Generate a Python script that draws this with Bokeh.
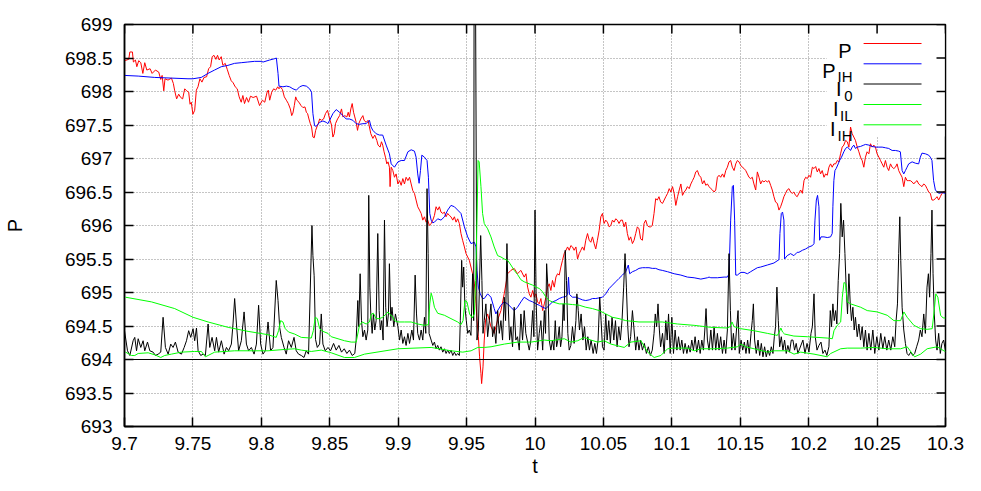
from bokeh.plotting import figure
from bokeh.models import Range1d, FixedTicker, BoxAnnotation
from bokeh.core.properties import value
from bokeh.embed import file_html
from bokeh.resources import INLINE

# ---------------- axis ticks ----------------
x_ticks = [9.7, 9.75, 9.8, 9.85, 9.9, 9.95, 10.0, 10.05, 10.1, 10.15, 10.2, 10.25, 10.3]
x_tick_labels = ["9.7", "9.75", "9.8", "9.85", "9.9", "9.95", "10", "10.05", "10.1", "10.15", "10.2", "10.25", "10.3"]
y_ticks = [693.0, 693.5, 694.0, 694.5, 695.0, 695.5, 696.0, 696.5, 697.0, 697.5, 698.0, 698.5, 699.0]
y_tick_labels = ["693", "693.5", "694", "694.5", "695", "695.5", "696", "696.5", "697", "697.5", "698", "698.5", "699"]

# ---------------- series (t, value) ----------------
P = [
(9.7000,698.46),(9.7031,698.48),(9.7039,698.59),(9.7058,698.59),(9.7065,698.44),(9.7080,698.47),(9.7090,698.37),(9.7104,698.46),
(9.7119,698.43),(9.7134,698.27),(9.7148,698.43),(9.7163,698.32),(9.7187,698.34),(9.7202,698.27),(9.7226,698.32),(9.7250,698.29),
(9.7265,698.18),(9.7275,698.24),(9.7287,698.01),(9.7296,698.19),(9.7318,698.17),(9.7343,698.20),(9.7357,698.12),(9.7367,698.01),
(9.7381,697.89),(9.7396,697.96),(9.7411,697.91),(9.7425,697.89),(9.7440,698.04),(9.7454,698.01),(9.7469,697.99),(9.7479,697.81),
(9.7488,697.84),(9.7500,697.66),(9.7513,697.72),(9.7525,698.02),(9.7537,698.07),(9.7551,698.19),(9.7566,698.14),(9.7581,698.21),
(9.7600,698.22),(9.7615,698.34),(9.7629,698.37),(9.7641,698.52),(9.7654,698.54),(9.7668,698.48),(9.7680,698.54),(9.7692,698.47),
(9.7707,698.52),(9.7719,698.39),(9.7736,698.42),(9.7751,698.33),(9.7765,698.24),(9.7780,698.16),(9.7794,698.13),(9.7809,698.07),
(9.7824,698.04),(9.7838,697.92),(9.7853,697.84),(9.7865,697.94),(9.7877,697.82),(9.7892,697.91),(9.7906,697.84),(9.7921,697.93),
(9.7940,697.91),(9.7965,697.93),(9.7987,697.79),
(9.8008,697.87),(9.8025,697.84),(9.8042,697.99),(9.8051,698.02),(9.8061,697.87),(9.8076,697.99),(9.8090,698.04),(9.8105,698.02),
(9.8120,698.07),(9.8129,698.04),(9.8139,698.07),(9.8154,698.03),(9.8168,697.92),(9.8183,697.87),(9.8197,697.82),(9.8212,697.74),
(9.8222,697.64),(9.8231,697.68),(9.8241,697.79),(9.8251,697.92),(9.8260,697.87),(9.8275,697.84),(9.8290,697.79),(9.8304,697.76),
(9.8319,697.77),(9.8329,697.69),(9.8338,697.67),(9.8348,697.59),(9.8358,697.52),(9.8367,697.47),(9.8377,697.32),(9.8387,697.31),
(9.8397,697.42),(9.8406,697.47),(9.8416,697.52),(9.8426,697.59),(9.8440,697.57),(9.8455,697.59),(9.8469,697.67),(9.8484,697.72),
(9.8499,697.59),(9.8513,697.50),(9.8523,697.32),(9.8533,697.37),(9.8542,697.52),(9.8557,697.59),(9.8572,697.64),(9.8586,697.74),
(9.8596,697.62),(9.8610,697.64),(9.8625,697.62),(9.8635,697.69),(9.8644,697.62),(9.8654,697.74),(9.8664,697.82),(9.8674,697.69),
(9.8683,697.62),(9.8693,697.54),(9.8703,697.42),(9.8712,697.52),(9.8727,697.59),(9.8742,697.64),(9.8751,697.57),(9.8766,697.54),
(9.8780,697.57),(9.8790,697.47),(9.8800,697.37),(9.8815,697.30),(9.8829,697.35),(9.8844,697.27),(9.8853,697.20),(9.8868,697.17),
(9.8878,697.25),(9.8887,697.20),(9.8897,697.10),(9.8907,697.02),(9.8917,696.92),(9.8926,696.95),(9.8936,696.87),(9.8941,696.58),
(9.8949,696.87),(9.8961,696.82),(9.8973,696.72),(9.8985,696.77),(9.8998,696.62),(9.9010,696.67),(9.9022,696.60),(9.9034,696.70),
(9.9046,696.62),(9.9058,696.72),(9.9071,696.67),(9.9083,696.72),(9.9095,696.62),(9.9107,696.52),(9.9119,696.48),(9.9131,696.38),
(9.9143,696.28),(9.9156,696.23),(9.9168,696.18),(9.9180,696.08),(9.9192,696.13),(9.9204,696.05),(9.9216,696.08),(9.9228,696.00),
(9.9241,696.03),(9.9253,696.08),(9.9265,696.15),(9.9277,696.28),(9.9289,696.23),(9.9301,696.28),(9.9313,696.20),(9.9326,696.18),
(9.9338,696.20),(9.9350,696.13),(9.9362,696.18),(9.9374,696.15),(9.9386,696.13),(9.9399,696.08),(9.9411,696.13),(9.9423,696.05),
(9.9435,696.10),(9.9447,696.03),(9.9459,695.88),(9.9471,695.78),(9.9484,695.68),(9.9496,695.58),(9.9508,695.53),(9.9520,695.48),
(9.9532,695.38),(9.9544,695.28),(9.9557,695.13),(9.9569,694.83),(9.9576,694.59),(9.9586,694.34),(9.9595,694.04),(9.9605,693.79),
(9.9610,693.64),(9.9620,693.89),(9.9629,694.29),(9.9639,694.59),(9.9654,694.68),(9.9678,694.49),(9.9702,694.39),(9.9727,694.59),
(9.9751,694.73),(9.9775,694.98),(9.9800,695.28),(9.9824,695.33),(9.9848,695.36),(9.9872,695.28),(9.9897,695.33),(9.9921,695.23),
(9.9934,695.28),(9.9946,695.08),(9.9958,694.98),(9.9970,694.93),(9.9983,695.03),(9.9995,694.93),(10.0007,694.98),(10.0019,694.86),
(10.0031,694.83),(10.0043,694.91),(10.0056,694.73),(10.0068,694.83),(10.0080,694.93),(10.0092,695.08),(10.0104,695.13),(10.0116,695.03),
(10.0128,695.18),(10.0141,695.08),(10.0153,695.23),(10.0165,695.28),(10.0177,695.26),(10.0189,695.38),(10.0201,695.48),(10.0213,695.58),
(10.0226,695.63),(10.0238,695.68),(10.0250,695.63),(10.0262,695.70),(10.0274,695.68),(10.0286,695.63),(10.0299,695.68),(10.0311,695.50),
(10.0323,695.58),(10.0335,695.63),(10.0347,695.68),(10.0359,695.63),(10.0371,695.78),(10.0384,695.88),(10.0396,695.78),(10.0408,695.75),
(10.0420,695.83),(10.0432,695.73),(10.0444,695.65),(10.0456,695.78),(10.0469,695.93),(10.0481,696.13),(10.0493,696.18),(10.0505,696.03),
(10.0517,696.08),(10.0529,696.05),(10.0542,695.98),(10.0554,696.00),(10.0566,696.08),(10.0578,696.05),(10.0590,696.10),(10.0602,696.08),
(10.0614,696.03),(10.0627,696.08),(10.0639,696.08),(10.0651,695.98),(10.0663,696.05),(10.0675,695.88),(10.0687,695.78),(10.0699,695.83),
(10.0712,695.73),(10.0724,695.78),(10.0736,695.88),(10.0748,695.98),(10.0760,695.95),(10.0772,695.80),(10.0785,695.78),(10.0797,696.03),
(10.0809,696.08),(10.0821,696.00),(10.0833,695.98),(10.0845,695.98),(10.0857,696.00),(10.0870,696.18),(10.0882,696.40),(10.0894,696.38),
(10.0906,696.43),(10.0918,696.35),
(10.0932,696.33),(10.0944,696.38),(10.0956,696.43),(10.0969,696.48),(10.0981,696.55),(10.0993,696.50),(10.1005,696.58),(10.1017,696.48),
(10.1029,696.30),(10.1042,696.43),(10.1054,696.53),(10.1066,696.62),(10.1078,696.45),(10.1090,696.50),(10.1102,696.53),(10.1114,696.58),
(10.1127,696.55),(10.1139,696.62),(10.1151,696.67),(10.1163,696.72),(10.1175,696.80),(10.1187,696.82),(10.1199,696.75),(10.1212,696.72),
(10.1224,696.62),(10.1236,696.67),(10.1248,696.60),(10.1260,696.62),(10.1272,696.58),(10.1285,696.55),(10.1297,696.53),(10.1309,696.50),
(10.1321,696.53),(10.1333,696.72),(10.1345,696.75),(10.1357,696.72),(10.1370,696.77),(10.1382,696.72),(10.1394,696.82),(10.1406,696.87),
(10.1418,696.95),(10.1430,696.97),(10.1442,696.87),(10.1455,696.82),(10.1467,696.92),(10.1479,696.97),(10.1491,696.95),(10.1503,696.90),
(10.1515,696.87),(10.1528,696.85),(10.1540,696.82),(10.1552,696.77),(10.1564,696.72),(10.1576,696.70),(10.1588,696.72),(10.1600,696.62),
(10.1613,696.53),(10.1625,696.80),(10.1637,696.72),(10.1649,696.62),(10.1661,696.67),(10.1673,696.65),(10.1685,696.67),(10.1698,696.65),
(10.1710,696.67),(10.1722,696.60),(10.1734,696.53),(10.1746,696.43),(10.1758,696.35),(10.1771,696.33),(10.1783,696.23),(10.1795,696.28),
(10.1807,696.35),(10.1819,696.43),(10.1831,696.48),(10.1843,696.53),(10.1856,696.55),(10.1868,696.50),(10.1880,696.48),(10.1892,696.50),
(10.1904,696.45),(10.1916,696.43),
(10.1941,696.53),(10.1954,696.48),(10.1966,696.67),(10.1978,696.72),(10.1990,696.70),(10.2002,696.75),(10.2014,696.72),(10.2027,696.87),
(10.2039,696.85),(10.2051,696.88),(10.2063,696.80),(10.2075,696.85),(10.2087,696.77),(10.2099,696.82),(10.2112,696.72),(10.2124,696.77),
(10.2136,696.75),(10.2148,696.87),(10.2160,696.92),(10.2172,696.87),(10.2184,696.92),(10.2197,696.92),(10.2209,696.97),(10.2221,696.95),
(10.2233,697.07),(10.2245,697.17),(10.2257,697.20),(10.2270,697.27),(10.2282,697.25),(10.2294,697.17),(10.2306,697.47),(10.2318,697.37),
(10.2330,697.32),(10.2342,697.27),(10.2355,697.17),(10.2367,697.10),(10.2379,697.02),(10.2391,696.97),(10.2403,696.87),(10.2415,697.02),
(10.2427,697.10),(10.2440,697.07),(10.2452,697.22),(10.2464,697.17),(10.2476,697.20),(10.2488,697.17),(10.2500,697.07),(10.2513,697.02),
(10.2525,696.97),(10.2537,696.92),(10.2549,696.87),(10.2561,696.97),(10.2573,696.87),(10.2585,696.82),(10.2598,696.92),(10.2610,696.87),
(10.2622,696.85),(10.2634,696.87),(10.2646,696.92),(10.2658,696.82),(10.2670,696.77),(10.2683,696.72),(10.2695,696.58),(10.2707,696.72),
(10.2719,696.67),(10.2731,696.67),(10.2743,696.67),(10.2756,696.65),(10.2768,696.62),(10.2780,696.65),(10.2792,696.67),(10.2804,696.62),
(10.2816,696.60),(10.2828,696.58),(10.2841,696.62),(10.2853,696.60),(10.2865,696.55),(10.2877,696.50),(10.2889,696.48),(10.2901,696.38),
(10.2913,696.38),(10.2926,696.40),(10.2938,696.43),(10.2950,696.38),(10.2962,696.43),(10.2974,696.48),(10.2986,696.50),(10.2999,696.50),
]

P_IH = [
(9.7000,698.24),(9.7100,698.23),(9.7221,698.21),(9.7343,698.20),(9.7464,698.19),(9.7500,698.19),(9.7561,698.21),(9.7610,698.27),
(9.7658,698.32),(9.7707,698.37),(9.7756,698.39),(9.7804,698.42),(9.7853,698.43),(9.7901,698.44),(9.7950,698.45),(9.7999,698.45),
(9.8013,698.44),(9.8061,698.47),(9.8098,698.49),(9.8110,698.50),(9.8122,698.27),(9.8129,698.08),(9.8158,698.07),(9.8183,698.08),
(9.8207,698.07),(9.8231,698.04),(9.8256,698.02),(9.8280,698.07),(9.8304,698.09),(9.8329,698.08),(9.8353,698.04),(9.8367,697.99),
(9.8377,697.67),(9.8389,697.49),(9.8401,697.48),(9.8426,697.54),(9.8450,697.56),(9.8474,697.54),(9.8486,697.52),(9.8499,697.57),
(9.8523,697.67),(9.8547,697.73),(9.8572,697.69),(9.8596,697.64),(9.8620,697.59),(9.8644,697.59),(9.8669,697.57),(9.8693,697.52),
(9.8717,697.51),(9.8742,697.52),(9.8766,697.52),(9.8790,697.57),(9.8802,697.47),(9.8815,697.42),(9.8839,697.37),(9.8863,697.35),
(9.8887,697.35),(9.8912,697.20),(9.8936,697.07),
(9.8949,696.92),(9.8973,696.87),(9.8998,696.95),(9.9022,696.97),(9.9046,696.97),(9.9071,697.10),(9.9095,697.13),(9.9119,697.11),
(9.9131,697.02),(9.9143,696.77),(9.9153,696.63),(9.9163,696.82),(9.9173,697.05),(9.9192,697.02),(9.9211,696.97),(9.9221,696.72),
(9.9231,696.18),(9.9241,696.08),(9.9253,696.04),(9.9265,696.05),(9.9289,696.10),(9.9313,696.08),(9.9338,696.13),(9.9362,696.23),
(9.9386,696.30),(9.9411,696.28),(9.9435,696.23),(9.9459,696.18),(9.9484,695.98),(9.9508,695.83),(9.9532,695.73),(9.9557,695.75),
(9.9569,695.68),(9.9576,695.33),(9.9586,695.08),(9.9600,694.98),(9.9617,694.91),(9.9629,694.91),(9.9654,694.98),(9.9678,694.93),
(9.9702,694.76),(9.9714,694.68),(9.9727,694.73),(9.9751,694.81),(9.9775,694.86),(9.9800,694.83),(9.9824,694.78),(9.9848,694.73),
(9.9872,694.78),(9.9897,694.86),(9.9921,694.93),
(9.9958,694.88),(9.9983,694.86),(10.0007,694.83),(10.0031,694.81),(10.0056,694.78),(10.0080,694.76),(10.0104,694.81),(10.0128,694.86),
(10.0153,694.88),(10.0177,694.91),(10.0201,694.93),(10.0226,694.94),(10.0238,694.97),(10.0245,695.23),(10.0252,694.97),(10.0274,694.93),
(10.0299,694.93),(10.0323,694.91),(10.0347,694.89),(10.0371,694.88),(10.0396,694.89),(10.0420,694.91),(10.0444,694.91),(10.0469,694.92),
(10.0493,694.93),(10.0517,694.98),(10.0542,695.06),(10.0566,695.11),(10.0590,695.16),(10.0614,695.21),(10.0639,695.26),(10.0663,695.31),
(10.0682,695.41),(10.0692,695.28),(10.0712,695.31),(10.0736,695.33),(10.0760,695.36),(10.0785,695.37),(10.0809,695.37),(10.0833,695.37),
(10.0857,695.36),(10.0882,695.36),(10.0906,695.34),(10.0930,695.33),
(10.0969,695.31),(10.1017,695.28),(10.1066,695.26),(10.1114,695.23),(10.1163,695.22),(10.1212,695.20),(10.1260,695.22),(10.1272,695.23),
(10.1285,695.22),(10.1333,695.22),(10.1382,695.23),(10.1406,695.23),(10.1418,695.28),(10.1430,696.08),(10.1442,696.58),(10.1450,696.60),
(10.1459,696.08),(10.1467,695.26),(10.1479,695.26),(10.1503,695.30),(10.1528,695.30),(10.1552,695.28),(10.1576,695.31),(10.1600,695.34),
(10.1625,695.37),(10.1649,695.38),(10.1698,695.41),(10.1746,695.44),(10.1783,695.49),(10.1790,695.88),(10.1800,696.18),(10.1809,696.20),
(10.1819,696.08),(10.1824,695.50),(10.1843,695.55),(10.1868,695.58),(10.1892,695.55),(10.1916,695.60),
(10.1929,695.60),(10.1954,695.63),(10.1978,695.65),(10.2002,695.68),(10.2027,695.70),(10.2039,695.73),(10.2046,696.08),(10.2056,696.38),
(10.2065,696.45),(10.2075,696.28),(10.2080,695.78),(10.2090,695.83),(10.2112,695.83),(10.2136,695.82),(10.2160,695.83),(10.2172,695.88),
(10.2177,696.28),(10.2184,696.67),(10.2192,696.82),(10.2201,696.85),(10.2216,696.92),(10.2226,696.97),(10.2240,697.02),(10.2257,697.10),
(10.2270,697.15),(10.2282,697.17),(10.2294,697.15),(10.2306,697.12),(10.2318,697.17),(10.2330,697.20),(10.2342,697.15),(10.2355,697.17),
(10.2379,697.18),(10.2403,697.20),(10.2415,697.21),(10.2440,697.20),(10.2464,697.18),(10.2488,697.17),(10.2513,697.17),(10.2537,697.17),
(10.2561,697.16),(10.2585,697.15),(10.2610,697.12),(10.2634,697.12),(10.2658,697.11),(10.2670,697.10),(10.2683,696.82),(10.2695,696.77),
(10.2707,696.82),(10.2719,696.87),(10.2731,696.92),(10.2756,696.95),(10.2780,696.93),(10.2804,696.92),(10.2816,697.02),(10.2828,697.08),
(10.2853,697.07),(10.2877,697.05),(10.2889,697.02),(10.2901,696.97),(10.2913,696.67),(10.2926,696.53),(10.2950,696.48),(10.2974,696.49),
(10.2999,696.48),
]

I_0 = [
(9.7000,694.43),(9.7022,694.13),(9.7039,694.06),(9.7063,694.28),(9.7075,694.33),(9.7088,694.13),(9.7100,694.31),(9.7119,694.18),
(9.7136,694.28),(9.7148,694.13),(9.7168,694.26),(9.7185,694.13),(9.7209,694.11),(9.7226,694.06),(9.7246,694.08),(9.7265,694.11),
(9.7282,694.63),(9.7299,694.18),(9.7319,694.08),(9.7338,694.23),(9.7355,694.18),(9.7372,694.26),(9.7392,694.11),(9.7416,694.08),
(9.7436,694.18),(9.7453,694.28),(9.7469,694.43),(9.7484,694.33),(9.7501,694.46),(9.7513,694.28),(9.7526,694.47),(9.7538,694.13),
(9.7557,694.06),(9.7574,694.08),(9.7591,694.06),(9.7611,694.53),(9.7623,694.18),(9.7640,694.33),(9.7659,694.13),(9.7672,694.33),
(9.7688,694.11),(9.7708,694.28),(9.7728,694.08),(9.7745,694.18),(9.7761,694.13),(9.7781,694.23),(9.7793,694.53),(9.7805,694.91),
(9.7818,694.53),(9.7834,694.13),(9.7854,694.28),(9.7874,694.71),(9.7891,694.23),(9.7907,694.13),(9.7927,694.18),(9.7947,694.08),
(9.7964,694.23),(9.7980,694.81),(9.7995,694.23),(9.8012,694.08),(9.8029,694.13),(9.8049,694.56),(9.8068,694.13),(9.8085,694.18),
(9.8109,695.18),(9.8122,694.88),(9.8134,694.48),(9.8146,694.33),(9.8166,694.18),(9.8182,694.08),(9.8199,694.28),(9.8219,694.18),
(9.8239,694.33),(9.8255,694.13),(9.8272,694.08),(9.8292,694.06),(9.8312,694.03),(9.8328,694.13),(9.8345,694.08),(9.8370,696.00),
(9.8377,695.55),(9.8386,695.25),(9.8396,694.30),(9.8409,694.18),(9.8426,694.23),(9.8438,694.68),(9.8450,694.23),(9.8467,694.13),
(9.8487,694.18),(9.8506,694.13),
(9.8528,694.24),(9.8547,694.14),(9.8567,694.21),(9.8586,694.11),(9.8606,694.16),(9.8625,694.09),(9.8644,694.14),(9.8664,694.06),
(9.8683,694.09),(9.8693,694.29),(9.8705,694.88),(9.8712,694.49),(9.8722,695.28),(9.8732,694.58),(9.8742,694.34),(9.8754,694.44),
(9.8766,694.29),(9.8778,694.44),(9.8785,696.45),(9.8793,695.08),(9.8800,694.68),(9.8810,694.39),(9.8819,694.68),(9.8829,694.44),
(9.8839,694.58),(9.8851,695.88),(9.8861,694.73),(9.8870,694.44),(9.8880,694.58),(9.8890,694.29),(9.8900,696.08),(9.8909,694.78),
(9.8919,694.49),(9.8929,694.68),(9.8936,695.43),(9.8946,694.58),(9.8955,694.78),(9.8968,694.49),(9.8980,694.68),
(9.8998,694.49),(9.9010,694.29),(9.9022,694.44),(9.9034,694.24),(9.9046,694.34),(9.9058,694.21),(9.9071,694.39),(9.9083,694.24),
(9.9100,694.44),(9.9112,694.29),(9.9124,695.26),(9.9134,694.68),(9.9143,694.39),(9.9156,694.29),(9.9168,694.44),(9.9180,694.29),
(9.9192,694.63),(9.9202,694.39),(9.9211,696.55),(9.9219,695.58),(9.9226,694.39),(9.9241,694.29),(9.9253,694.21),(9.9265,694.26),
(9.9277,694.16),(9.9289,694.21),(9.9301,694.14),(9.9313,694.19),(9.9326,694.11),(9.9338,694.16),(9.9350,694.09),(9.9362,694.14),
(9.9374,694.09),(9.9386,694.14),(9.9399,694.06),(9.9411,694.11),(9.9423,694.06),(9.9435,694.09),(9.9447,694.06),(9.9454,694.58),
(9.9464,695.48),(9.9471,695.08),(9.9479,695.38),(9.9488,694.78),(9.9498,694.58),(9.9508,694.39),(9.9520,694.44),(9.9532,694.36),
(9.9544,695.28),(9.9552,694.58),(9.9555,699.60),(9.9565,699.60),(9.9576,694.29),(9.9586,694.44),(9.9603,695.85),(9.9612,695.18),
(9.9620,694.39),(9.9629,694.58),(9.9641,694.83),(9.9654,694.34),(9.9666,694.58),(9.9678,694.83),(9.9690,694.34),(9.9702,694.49),
(9.9714,694.24),(9.9727,694.73),(9.9739,694.39),(9.9751,694.58),(9.9763,694.29),(9.9775,694.93),(9.9785,694.58),(9.9795,695.73),
(9.9804,694.83),(9.9814,694.29),(9.9824,694.49),(9.9836,694.19),(9.9848,694.78),(9.9860,694.29),(9.9872,694.34),(9.9885,694.14),
(9.9897,694.68),(9.9909,694.29),(9.9921,694.73),(9.9933,694.39),
(9.9958,694.14),(9.9970,694.29),(9.9983,694.73),(9.9992,694.34),(10.0000,696.23),(10.0009,694.83),(10.0019,694.14),(10.0031,694.39),
(10.0043,694.58),(10.0056,694.14),(10.0068,694.73),(10.0077,694.39),(10.0085,695.43),(10.0094,695.08),(10.0104,694.29),(10.0116,694.14),
(10.0128,694.29),(10.0138,694.14),(10.0148,694.58),(10.0158,694.19),(10.0167,694.29),(10.0177,694.49),(10.0187,694.19),(10.0197,694.34),
(10.0206,694.83),(10.0213,694.58),(10.0221,695.63),(10.0230,695.18),(10.0240,694.39),(10.0250,694.14),(10.0262,694.21),(10.0274,694.49),
(10.0286,694.24),(10.0299,694.58),(10.0306,694.98),(10.0316,694.73),(10.0325,694.44),(10.0337,694.68),(10.0350,694.29),(10.0362,694.49),
(10.0374,694.14),(10.0386,694.34),(10.0398,694.14),(10.0410,694.29),(10.0425,694.09),(10.0437,694.24),(10.0449,694.09),(10.0461,694.29),
(10.0473,694.93),(10.0483,694.58),(10.0493,694.19),(10.0505,694.14),(10.0517,694.68),(10.0527,694.29),(10.0539,694.58),(10.0551,694.24),
(10.0563,694.63),(10.0576,694.29),(10.0588,694.58),(10.0600,694.19),(10.0612,694.49),(10.0624,694.29),(10.0636,694.58),(10.0648,695.08),
(10.0658,695.58),(10.0668,695.08),(10.0678,694.49),(10.0687,694.19),(10.0699,694.34),(10.0712,694.73),(10.0724,694.44),(10.0736,694.14),
(10.0748,694.34),(10.0760,694.14),(10.0772,694.29),(10.0785,694.14),(10.0799,694.24),(10.0814,694.09),(10.0828,694.19),(10.0843,694.06),
(10.0857,694.14),(10.0870,694.39),(10.0879,694.68),(10.0889,694.49),(10.0899,694.83),(10.0909,694.44),(10.0918,694.19),
(10.0932,694.39),(10.0944,694.09),(10.0956,694.58),(10.0966,694.29),(10.0976,694.68),(10.0988,694.09),(10.1000,694.63),(10.1012,694.09),
(10.1024,694.44),(10.1037,694.14),(10.1049,694.34),(10.1061,694.14),(10.1073,694.29),(10.1085,694.09),(10.1097,694.24),(10.1110,694.09),
(10.1122,694.21),(10.1134,694.11),(10.1146,694.29),(10.1158,694.14),(10.1170,694.34),(10.1182,694.11),(10.1195,694.29),(10.1207,694.09),
(10.1219,694.29),(10.1231,694.14),(10.1241,694.44),(10.1250,694.76),(10.1260,694.29),(10.1272,694.14),(10.1285,694.44),(10.1297,694.14),
(10.1309,694.49),(10.1321,694.14),(10.1333,694.39),(10.1345,694.14),(10.1357,694.34),(10.1370,694.09),(10.1382,694.29),(10.1394,694.09),
(10.1406,694.44),(10.1418,695.58),(10.1428,694.73),(10.1438,694.14),(10.1450,694.39),(10.1462,694.14),(10.1474,694.49),(10.1484,694.73),
(10.1493,694.09),(10.1506,694.29),(10.1518,694.14),(10.1530,694.26),(10.1542,694.09),(10.1554,694.29),(10.1566,694.09),(10.1579,694.39),
(10.1588,694.58),(10.1596,694.83),(10.1605,694.29),(10.1617,694.09),(10.1630,694.29),(10.1642,694.06),(10.1654,694.24),(10.1666,694.04),
(10.1678,694.19),(10.1690,694.04),(10.1702,694.14),(10.1715,694.06),(10.1727,694.19),(10.1739,694.09),(10.1749,694.34),(10.1758,694.49),
(10.1768,695.08),(10.1778,694.58),(10.1788,694.19),(10.1800,694.34),(10.1812,694.14),(10.1824,694.29),(10.1836,694.09),(10.1848,694.21),
(10.1860,694.11),(10.1873,694.29),(10.1885,694.29),(10.1897,694.14),(10.1909,694.24),(10.1921,694.09),
(10.1958,694.29),(10.1973,694.09),(10.1988,694.24),(10.2002,694.11),(10.2017,694.39),(10.2027,694.49),(10.2039,694.98),(10.2048,694.34),
(10.2061,694.14),(10.2075,694.21),(10.2090,694.26),(10.2104,694.09),(10.2119,694.14),(10.2133,694.06),(10.2148,694.19),(10.2158,694.73),
(10.2167,694.49),(10.2177,694.83),(10.2187,694.58),(10.2197,694.73),(10.2206,694.53),(10.2216,695.18),(10.2226,695.58),(10.2235,696.33),
(10.2245,695.83),(10.2255,696.08),(10.2265,695.58),(10.2274,695.08),(10.2284,694.68),(10.2294,695.28),(10.2304,694.83),(10.2313,694.58),
(10.2323,694.78),(10.2333,694.44),(10.2342,694.63),(10.2355,694.34),(10.2367,694.53),(10.2379,694.29),(10.2391,694.49),(10.2403,694.19),
(10.2415,694.44),(10.2427,694.14),(10.2440,694.39),(10.2454,694.14),(10.2469,694.44),(10.2483,694.09),(10.2498,694.34),(10.2513,694.14),
(10.2527,694.39),(10.2542,694.16),(10.2556,694.34),(10.2571,694.14),(10.2585,694.29),(10.2600,694.14),(10.2615,694.34),(10.2629,694.19),
(10.2639,694.58),(10.2649,694.83),(10.2658,695.58),(10.2666,696.13),(10.2673,695.48),(10.2683,694.78),(10.2695,694.44),(10.2707,694.24),
(10.2719,694.09),(10.2731,694.06),(10.2746,694.11),(10.2761,694.06),(10.2775,694.09),(10.2789,694.19),(10.2804,694.29),(10.2816,694.44),
(10.2828,694.34),(10.2841,694.68),(10.2853,694.39),(10.2865,695.08),(10.2875,695.28),(10.2884,694.93),(10.2894,695.58),(10.2901,696.23),
(10.2909,695.28),(10.2918,694.68),(10.2928,694.29),(10.2938,694.14),(10.2950,694.39),(10.2962,694.09),(10.2974,694.24),(10.2986,694.29),
(10.2999,694.14),
]

I_IL = [
(9.7007,694.93),(9.7197,694.86),(9.7367,694.76),(9.7501,694.63),(9.7611,694.56),(9.7757,694.48),(9.7903,694.42),(9.8049,694.37),
(9.8109,694.33),(9.8126,694.43),(9.8141,694.58),(9.8158,694.56),(9.8175,694.46),(9.8199,694.41),(9.8243,694.38),(9.8292,694.33),
(9.8365,694.32),(9.8380,694.43),(9.8394,694.63),(9.8409,694.61),(9.8426,694.46),(9.8450,694.42),(9.8487,694.39),(9.8511,694.34),
(9.8608,694.28),(9.8657,694.26),(9.8693,694.26),(9.8717,694.51),(9.8737,694.56),(9.8766,694.53),(9.8790,694.56),(9.8805,694.68),
(9.8819,694.69),(9.8839,694.61),(9.8863,694.61),(9.8887,694.63),(9.8912,694.68),(9.8926,694.71),(9.8941,694.67),(9.8960,694.64),
(9.8973,694.58),(9.8998,694.56),(9.9046,694.56),(9.9095,694.56),(9.9143,694.53),(9.9192,694.51),(9.9221,694.52),(9.9231,694.83),
(9.9241,694.99),(9.9250,694.93),(9.9265,694.78),(9.9289,694.69),(9.9338,694.66),(9.9386,694.61),(9.9435,694.56),(9.9459,694.52),
(9.9474,694.58),(9.9488,694.88),(9.9503,694.86),(9.9522,694.68),(9.9542,694.62),(9.9557,694.68),(9.9566,695.18),(9.9576,696.08),
(9.9584,696.97),(9.9592,696.95),(9.9605,696.58),(9.9617,696.18),(9.9629,696.03),(9.9654,695.95),(9.9678,695.83),(9.9702,695.68),
(9.9727,695.55),(9.9751,695.53),(9.9775,695.50),(9.9800,695.48),(9.9824,695.41),(9.9848,695.33),(9.9872,695.27),(9.9897,695.19),
(9.9921,695.16),(9.9958,695.13),(9.9983,695.11),(10.0007,695.08),(10.0031,695.06),(10.0056,695.01),(10.0080,694.93),(10.0104,694.88),
(10.0128,694.86),(10.0177,694.83),(10.0226,694.83),(10.0274,694.82),(10.0323,694.81),(10.0371,694.78),(10.0420,694.76),(10.0469,694.73),
(10.0517,694.68),(10.0566,694.63),(10.0614,694.61),(10.0663,694.58),(10.0712,694.57),(10.0760,694.56),(10.0857,694.56),(10.0930,694.56),
(10.1042,694.53),(10.1163,694.51),(10.1285,694.48),(10.1406,694.47),(10.1425,694.49),(10.1440,694.56),(10.1455,694.49),(10.1503,694.46),
(10.1600,694.43),(10.1698,694.39),(10.1771,694.36),(10.1785,694.41),(10.1797,694.47),(10.1809,694.41),(10.1824,694.38),(10.1892,694.35),
(10.1990,694.34),(10.2136,694.32),(10.2173,694.31),(10.2185,694.43),(10.2209,694.51),(10.2234,694.56),(10.2246,694.93),(10.2258,695.15),
(10.2270,695.13),(10.2282,694.86),(10.2307,694.83),(10.2380,694.78),(10.2428,694.73),(10.2501,694.71),(10.2574,694.66),(10.2623,694.58),
(10.2672,694.58),(10.2696,694.71),(10.2720,694.63),(10.2769,694.51),(10.2818,694.46),(10.2866,694.45),(10.2903,694.46),(10.2920,694.78),
(10.2929,694.98),(10.2944,694.93),(10.2964,694.66),(10.2983,694.62),(10.3000,694.62),
]

I_IH = [
(9.7007,694.11),(9.7026,694.09),(9.7051,694.06),(9.7075,694.06),(9.7100,694.09),(9.7173,694.10),(9.7221,694.07),(9.7265,694.03),
(9.7294,694.06),(9.7343,694.08),(9.7416,694.11),(9.7513,694.12),(9.7562,694.12),(9.7591,694.04),(9.7611,694.06),(9.7659,694.11),
(9.7805,694.13),(9.7951,694.13),(9.8049,694.13),(9.8170,694.15),(9.8243,694.16),(9.8292,694.14),(9.8365,694.12),(9.8438,694.14),
(9.8511,694.10),(9.8608,694.03),(9.8681,694.03),(9.8754,694.08),(9.8998,694.16),(9.9241,694.18),(9.9387,694.13),(9.9472,694.11),
(9.9533,694.13),(9.9582,694.18),(9.9630,694.18),(9.9679,694.19),(9.9776,694.23),(9.9874,694.26),(9.9971,694.26),(10.0068,694.29),
(10.0117,694.28),(10.0214,694.31),(10.0263,694.26),(10.0312,694.28),(10.0360,694.33),(10.0409,694.29),(10.0458,694.26),(10.0506,694.28),
(10.0555,694.23),(10.0652,694.18),(10.0701,694.26),(10.0774,694.28),(10.0823,694.11),(10.0871,694.03),(10.0920,694.06),(10.0969,694.16),
(10.1017,694.17),(10.1114,694.17),(10.1163,694.13),(10.1212,694.16),(10.1309,694.16),(10.1406,694.17),(10.1479,694.19),(10.1504,694.23),
(10.1540,694.19),(10.1601,694.16),(10.1699,694.11),(10.1747,694.13),(10.1845,694.13),(10.1893,694.08),(10.1942,694.11),(10.2039,694.08),
(10.2136,694.04),(10.2161,694.09),(10.2234,694.16),(10.2282,694.17),(10.2380,694.17),(10.2477,694.18),(10.2574,694.16),(10.2672,694.16),
(10.2720,694.19),(10.2749,694.11),(10.2774,694.04),(10.2818,694.08),(10.2866,694.16),(10.2939,694.19),(10.2988,694.13),(10.3000,694.12),
]

baseline_t = [9.7, 10.3]
baseline_v = [694.0, 694.0]

legend_main = ["P", "P", "I", "I", "I"]
legend_sub = ["", "IH", "0", "IL", "IH"]
colors = ["#ff0000", "#0000ff", "#000000", "#00ff00", "#00ff00"]

# ---------------- layout helpers (page pixel -> data) ----------------
FONT = "Liberation Sans"
X0, X1, Y0, Y1 = 9.7, 10.3, 693.0, 699.0
FL, FR, FT, FB = 123, 945, 24, 426
W, H = 981, 491


def dx(px):
    return X0 + (px - FL) * (X1 - X0) / (FR - FL)


def dy(py):
    return Y0 + (FB - py) * (Y1 - Y0) / (FB - FT)


p = figure(width=W, height=H, x_range=Range1d(X0, X1), y_range=Range1d(Y0, Y1),
           output_backend="svg", toolbar_location=None,
           min_border_left=FL, min_border_right=W - FR, min_border_top=FT, min_border_bottom=H - FB)
p.background_fill_color = "white"
p.border_fill_color = "white"
p.outline_line_color = "black"
p.outline_line_width = 1.5


def style_axis(ax, ticks, labels):
    ax.ticker = FixedTicker(ticks=ticks)
    ax.major_label_overrides = dict(zip(ticks, labels))
    ax.major_tick_in = 9
    ax.major_tick_out = 0
    ax.minor_tick_line_color = None
    ax.major_tick_line_color = "black"
    ax.major_tick_line_width = 1.5
    ax.axis_line_color = "black"
    ax.axis_line_width = 1.5
    ax.major_label_text_font = FONT
    ax.major_label_text_color = "black"
    ax.major_label_text_font_size = "19px"
    ax.axis_label_text_font = FONT
    ax.axis_label_text_font_size = "20px"
    ax.axis_label_text_font_style = "normal"
    ax.axis_label_text_color = "black"


style_axis(p.xaxis[0], x_ticks, x_tick_labels)
style_axis(p.yaxis[0], y_ticks, y_tick_labels)
p.xaxis[0].major_label_standoff = 10
p.yaxis[0].major_label_standoff = 12
p.xaxis[0].axis_label = "t"
p.yaxis[0].axis_label = "P"
p.xaxis[0].axis_label_standoff = 2
p.yaxis[0].axis_label_standoff = 36

p.xgrid.ticker = FixedTicker(ticks=x_ticks)
p.ygrid.ticker = FixedTicker(ticks=y_ticks)
for g in (p.xgrid[0], p.ygrid[0]):
    g.grid_line_color = "#8a8a8a"
    g.grid_line_dash = "1 2"
    g.grid_line_width = 1

# key area is kept clear of the grid
p.add_layout(BoxAnnotation(left=dx(826), right=dx(944), top=dy(29), bottom=dy(136),
                           fill_color="white", fill_alpha=1.0, line_color=None, level="underlay"))

series = [P, P_IH, I_0, I_IL, I_IH]
for data, col in zip(series, colors):
    ts = [a for a, b in data]
    vs = [b for a, b in data]
    p.line(ts, vs, line_color=col, line_width=1)
    if data is I_0:
        p.line(baseline_t, baseline_v, line_color="#000000", line_width=1)

# mirrored inward ticks on the top and right border
tick_dt = dx(FL + 9) - X0
tick_dv = dy(FB - 9) - Y0
p.segment(x0=x_ticks, y0=[Y1] * len(x_ticks), x1=x_ticks, y1=[Y1 - tick_dv] * len(x_ticks),
          line_color="black", line_width=1.5)
p.segment(x0=[X1] * len(y_ticks), y0=y_ticks, x1=[X1 - tick_dt] * len(y_ticks), y1=y_ticks,
          line_color="black", line_width=1.5)

# key
row_y = [43, 63.3, 83.5, 104, 124.3]
main_x = [851, 835, 841, 838, 835]
main_base = [50, 70, 88.3, 108.3, 128.3]
sub_base = [76, 95, 115, 135]
p.segment(x0=[dx(863)] * 5, y0=[dy(y) for y in row_y], x1=[dx(921)] * 5, y1=[dy(y) for y in row_y],
          line_color=colors, line_width=1)
p.text(x=[dx(x) for x in main_x], y=[dy(y) for y in main_base], text=legend_main,
       text_align="right", text_baseline="alphabetic", text_font=value(FONT),
       text_font_size="20px", text_color="black")
p.text(x=[dx(852)] * 4, y=[dy(y) for y in sub_base], text=legend_sub[1:],
       text_align="right", text_baseline="alphabetic", text_font=value(FONT),
       text_font_size="15px", text_color="black")

open("out.html", "w").write(file_html(p, INLINE))
